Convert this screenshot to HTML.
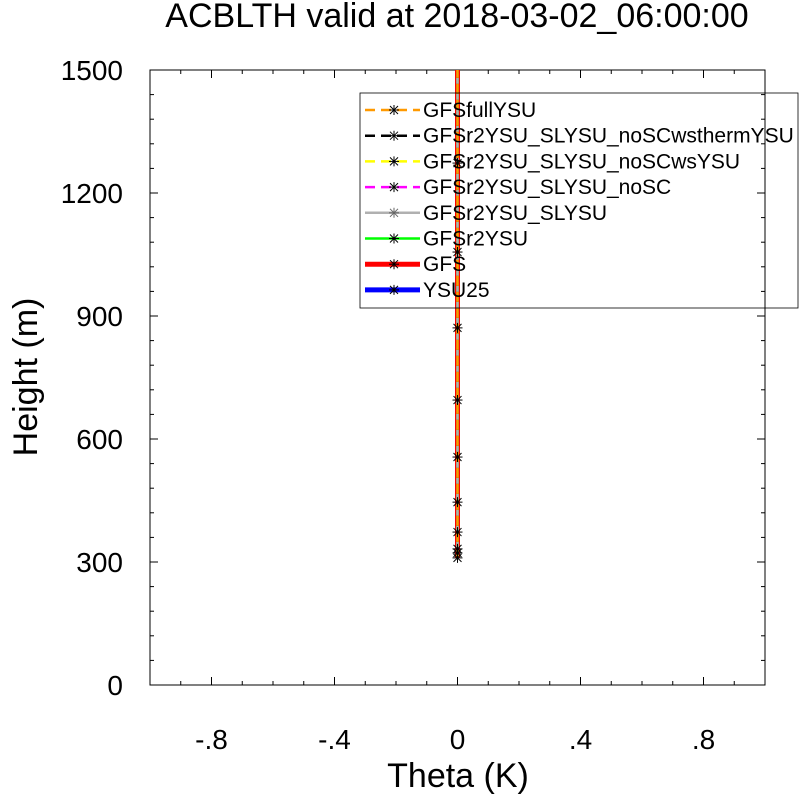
<!DOCTYPE html>
<html><head><meta charset="utf-8"><style>
body{margin:0;background:#fff;}
svg{display:block;font-family:"Liberation Sans",sans-serif;}
</style></head><body>
<svg id="chart" width="800" height="797" viewBox="0 0 800 797">
<text x="457" y="27" font-size="34" text-anchor="middle">ACBLTH valid at 2018-03-02_06:00:00</text>
<rect x="150" y="70" width="615" height="615" fill="none" stroke="#000" stroke-width="1"/>
<g id="axes"></g>
<g id="series"></g>
<g id="legend"></g>
<text x="458" y="787" font-size="34" text-anchor="middle">Theta (K)</text>
<text transform="translate(37,377) rotate(-90)" font-size="34" text-anchor="middle">Height (m)</text>
</svg>
<script>
const xTicks=[-0.8,-0.4,0,0.4,0.8];
const xTickLabels=["-.8","-.4","0",".4",".8"];
const yTicks=[0,300,600,900,1200,1500];
const yTickLabels=["0","300","600","900","1200","1500"];
const heights=[310,322,332,373,446,556,695,871,1056,1273,1500];
const thetaValues=[0,0,0,0,0,0,0,0,0,0,0];
const seriesNames=["GFSfullYSU","GFSr2YSU_SLYSU_noSCwsthermYSU","GFSr2YSU_SLYSU_noSCwsYSU","GFSr2YSU_SLYSU_noSC","GFSr2YSU_SLYSU","GFSr2YSU","GFS","YSU25"];
const seriesColors=["#ff9900","#000000","#ffff00","#ff00ff","#b0b0b0","#00ff00","#ff0000","#0000ff"];
const seriesWidths=[2.5,2.5,2.5,2.5,2.5,2.5,5,5];
const seriesDash=["10,6","10,6","10,6","10,6","","","",""];
const NS="http://www.w3.org/2000/svg";
const X=v=>457.5+v*307.5;
const Y=v=>685-v*0.41;
function mk(tag,attrs,parent){const e=document.createElementNS(NS,tag);for(const k in attrs)e.setAttribute(k,attrs[k]);parent.appendChild(e);return e;}
const axes=document.getElementById('axes');
xTicks.forEach((t,i)=>{
 const tk=mk('line',{x1:X(t),x2:X(t),y1:685,y2:677,stroke:'#000'},axes);
 
 
 const tk2=mk('line',{x1:X(t),x2:X(t),y1:70,y2:78,stroke:'#000'},axes);
 
 
 const tx=mk('text',{x:X(t),y:749,'font-size':28,'text-anchor':'middle'},axes);
 tx.textContent=xTickLabels[i];
 
 
});
for(let v=-1;v<=1.0001;v+=0.1){
 const m=mk('line',{x1:X(v),x2:X(v),y1:685,y2:681,stroke:'#000'},axes);
 
 
 const m2=mk('line',{x1:X(v),x2:X(v),y1:70,y2:74,stroke:'#000'},axes);
 
 
}
yTicks.forEach((t,i)=>{
 const tk=mk('line',{x1:150,x2:158,y1:Y(t),y2:Y(t),stroke:'#000'},axes);
 
 
 const tk2=mk('line',{x1:757,x2:765,y1:Y(t),y2:Y(t),stroke:'#000'},axes);
 
 
 const tx=mk('text',{x:123,y:Y(t)+10,'font-size':28,'text-anchor':'end'},axes);
 tx.textContent=yTickLabels[i];
 
 
});
for(let v=0;v<=1500;v+=60){
 const m=mk('line',{x1:150,x2:154,y1:Y(v),y2:Y(v),stroke:'#000'},axes);
 
 
 const m2=mk('line',{x1:761,x2:765,y1:Y(v),y2:Y(v),stroke:'#000'},axes);
 
 
}
const ser=document.getElementById('series');
function star(g,cx,cy,col){
 [[-4,-4,4,4],[-4,4,4,-4],[-5,0,5,0],[0,-5,0,5]].forEach(d=>{mk('line',{x1:cx+d[0],y1:cy+d[1],x2:cx+d[2],y2:cy+d[3],stroke:col,'stroke-width':1},g);});
}
for(let s=seriesNames.length-1;s>=0;s--){
 const g=mk('g',{},ser);
 
 
 const pts=heights.map((h,i)=>X(thetaValues[i])+','+Y(h)).join(' ');
 const a={points:pts,fill:'none',stroke:seriesColors[s],'stroke-width':seriesWidths[s]};
 if(seriesDash[s])a['stroke-dasharray']=seriesDash[s];
 mk('polyline',a,g);
}
const mg=mk('g',{},ser);


heights.forEach((h,i)=>{if(h<1500)star(mg,X(thetaValues[i]),Y(h),'#000');});
const lg=document.getElementById('legend');
const box=mk('rect',{x:360,y:93,width:438,height:215,fill:'none',stroke:'#000','stroke-width':0.8},lg);


seriesNames.forEach((n,i)=>{
 const y=110+i*25.7;
 const g=mk('g',{},lg);
 
 
 const a={x1:365,x2:420,y1:y,y2:y,stroke:seriesColors[i],'stroke-width':seriesWidths[i]};
 if(seriesDash[i])a['stroke-dasharray']=seriesDash[i];
 mk('line',a,g);
 star(g,394,y,i==4?'#666':'#000');
 const t=mk('text',{x:423,y:y+7,'font-size':21},g);
 t.textContent=n;
});
</script>
</body></html>
